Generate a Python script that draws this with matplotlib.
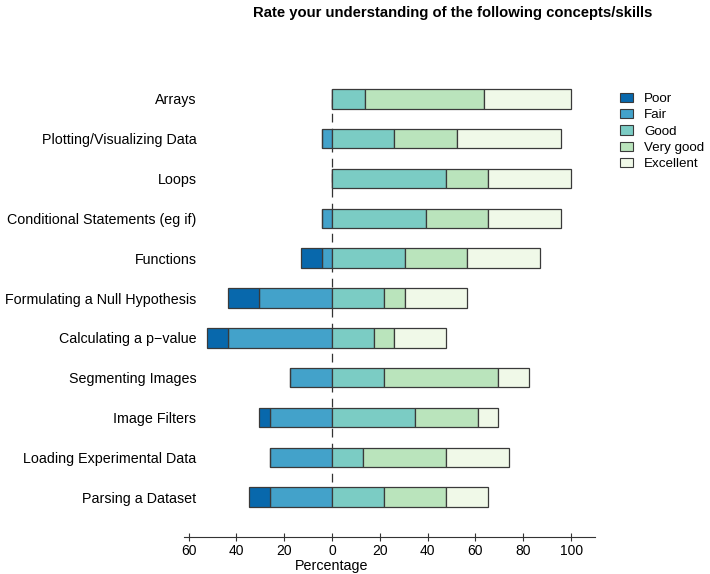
import matplotlib
matplotlib.use('Agg')
import matplotlib.pyplot as plt
from matplotlib.patches import Patch
import numpy as np

plt.rcParams['font.family'] = ['Liberation Sans', 'DejaVu Sans']

# вопросы (снизу вверх, как на графике)
questions = ['Parsing a Dataset', 'Loading Experimental Data', 'Image Filters',
             'Segmenting Images', 'Calculating a p\u2212value',
             'Formulating a Null Hypothesis', 'Functions',
             'Conditional Statements (eg if)', 'Loops',
             'Plotting/Visualizing Data', 'Arrays']
levels = ['Poor', 'Fair', 'Good', 'Very good', 'Excellent']
colors = ['#0868AC', '#43A2CA', '#7BCCC4', '#BAE4BC', '#F0F9E8']

# проценты ответов
poor      = [8.7, 0.0, 4.3, 0.0, 8.7, 13.0, 8.7, 0.0, 0.0, 0.0, 0.0]
fair      = [26.1, 26.1, 26.1, 17.4, 43.5, 30.4, 4.3, 4.3, 0.0, 4.3, 0.0]
good      = [21.7, 13.0, 34.8, 21.7, 17.4, 21.7, 30.4, 39.1, 47.8, 26.1, 13.6]
very_good = [26.1, 34.8, 26.1, 47.8, 8.7, 8.7, 26.1, 26.1, 17.4, 26.1, 50.0]
excellent = [17.4, 26.1, 8.7, 13.0, 21.7, 26.1, 30.4, 30.4, 34.8, 43.5, 36.4]

fig = plt.figure(figsize=(7.1, 5.74), dpi=100)
ax = fig.add_axes([0.259, 0.0645, 0.579, 0.8326])

y = np.arange(len(questions))
h = 0.49
ec = '#3a3a3a'
lw = 0.9

# отрицательная сторона
fair_a = np.array(fair)
poor_a = np.array(poor)
ax.barh(y, -fair_a, height=h, color=colors[1], edgecolor=ec, linewidth=lw, zorder=3)
ax.barh(y, -poor_a, left=-fair_a, height=h, color=colors[0], edgecolor=ec, linewidth=lw, zorder=3)

# положительная сторона
left = np.zeros(len(questions))
for vals, c in zip([good, very_good, excellent], colors[2:]):
    v = np.array(vals)
    ax.barh(y, v, left=left, height=h, color=c, edgecolor=ec, linewidth=lw, zorder=3)
    left += v

ax.plot([0, 0], [y[0], y[-1]], color='#333333', lw=0.9, ls=(0, (7, 5)), zorder=2)

ax.set_xlim(-62, 110)
ax.set_ylim(-1, 11)
ax.set_xticks(np.arange(-60, 101, 20))
ax.set_xticklabels([str(abs(t)) for t in range(-60, 101, 20)])
ax.set_yticks(y)
ax.set_yticklabels(questions)
ax.tick_params(axis='y', length=0, pad=-9, labelsize=10.3)
ax.tick_params(axis='x', direction='inout', length=6, width=0.8, labelsize=10, pad=2, color='#333333')
for s in ['top', 'right', 'left']:
    ax.spines[s].set_visible(False)
ax.spines['bottom'].set_color('#333333')
ax.spines['bottom'].set_linewidth(0.8)

ax.text(0, -0.061, 'Percentage', transform=ax.get_xaxis_transform(),
        ha='center', va='center', fontsize=10.3)

fig.text(0.638, 0.978, 'Rate your understanding of the following concepts/skills',
         ha='center', va='center', fontsize=10.7, fontweight='bold')

handles = [Patch(facecolor=c, edgecolor=ec, linewidth=0.8) for c in colors]
fig.legend(handles, levels, loc='upper left', bbox_to_anchor=(0.864, 0.85),
           frameon=False, fontsize=9.6, handlelength=1.0, handleheight=0.7,
           labelspacing=0.3, handletextpad=0.8, borderpad=0)

fig.savefig('out.png', dpi=100)
